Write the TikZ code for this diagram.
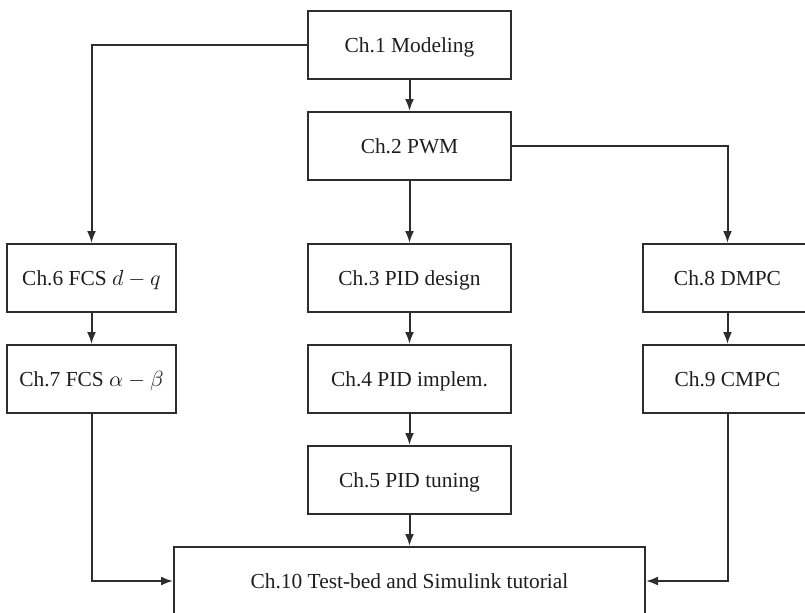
\documentclass[tikz,border=0pt]{standalone}
\usepackage{fontspec}
\setmainfont{Liberation Serif}
\usepackage{tikz}
\usetikzlibrary{arrows.meta,positioning}
\definecolor{chline}{RGB}{45,45,45}
\definecolor{chtext}{RGB}{30,30,30}

\begin{document}
\begin{tikzpicture}[node distance=15.5pt,>={Latex[length=6pt,width=4.5pt]}]
\tikzstyle{chap}=[draw=chline,line width=1pt,minimum width=101.5pt,minimum height=34pt,text height=8pt,text depth=1pt,align=center,text=chtext,font=\fontsize{10.7pt}{12pt}\selectfont]
\tikzstyle{side}=[chap,minimum width=84.5pt]
\tikzstyle{link}=[->,line width=1pt,chline]
\useasboundingbox (0,0) rectangle (402.5pt,-306pt);
% centre column
\node[chap] (ch1) at (204.75pt,-22.5pt) {Ch.1 Modeling};
\node[chap,below=of ch1] (ch2) {Ch.2 PWM};
\node[chap,below=31pt of ch2] (ch3) {Ch.3 PID design};
\node[chap,below=of ch3] (ch4) {Ch.4 PID implem.};
\node[chap,below=of ch4] (ch5) {Ch.5 PID tuning};
\node[chap,below=of ch5,minimum width=235.5pt] (ch10) {Ch.10 Test-bed and Simulink tutorial};
% side columns
\node[side,left=65pt of ch3] (ch6) {Ch.6 FCS $d-q$};
\node[side,below=of ch6] (ch7) {Ch.7 FCS $\alpha-\beta$};
\node[side,right=65pt of ch3] (ch8) {Ch.8 DMPC};
\node[side,below=of ch8] (ch9) {Ch.9 CMPC};
\draw[link] (ch1)--(ch2);
\draw[link] (ch2)--(ch3);
\draw[link] (ch3)--(ch4);
\draw[link] (ch4)--(ch5);
\draw[link] (ch5)--(ch10);
\draw[link] (ch6)--(ch7);
\draw[link] (ch8)--(ch9);
\draw[link] (ch1.west) -| (ch6.north);
\draw[link] (ch2.east) -| (ch8.north);
\draw[link] (ch7.south) |- (ch10.west);
\draw[link] (ch9.south) |- (ch10.east);
\end{tikzpicture}
\end{document}
